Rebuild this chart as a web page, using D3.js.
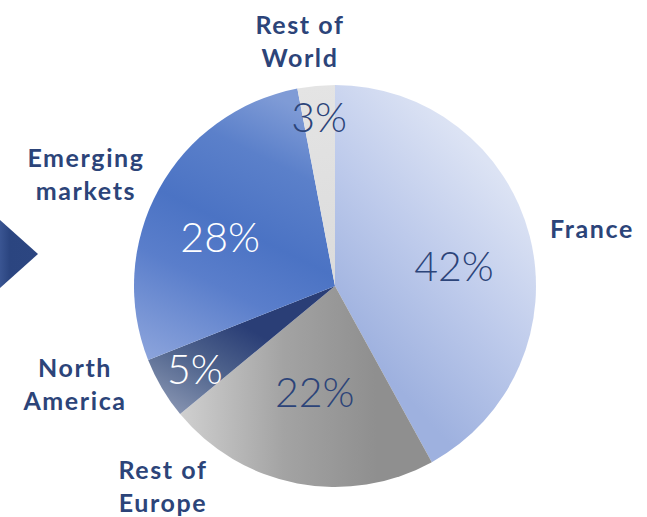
<!DOCTYPE html>
<html>
<head>
<meta charset="utf-8">
<script src="https://cdn.jsdelivr.net/npm/d3@7/dist/d3.min.js"></script>
<style>
  html, body { margin: 0; padding: 0; background: #ffffff; }
  svg { display: block; }
</style>
</head>
<body>
<svg id="chart" width="647" height="517"></svg>
<script>
// Revenue split by region
const regions = ["France", "Rest of Europe", "North America", "Emerging markets", "Rest of World"];
const shares = [42, 22, 5, 28, 3];
const valueLabels = ["42%", "22%", "5%", "28%", "3%"];
const nameLines = [["France"], ["Rest of", "Europe"], ["North", "America"], ["Emerging", "markets"], ["Rest of", "World"]];

const W = 647, H = 517;
const cx = 335, cy = 286, R = 201;
const svg = d3.select("#chart");
const defs = svg.append("defs");

const navy = "#2c4479";

// per-slice shading: gradient runs from (a1, r1) to (a2, r2), angles clockwise from 12 o'clock
const shading = [
  { a1: 60, r1: 1.0, a2: 165, r2: 0.25, stops: [[0, "#dce3f4"], [0.5, "#bdcaeb"], [1, "#9eb1df"]] },
  { a1: 160, r1: 0.6, a2: 235, r2: 1.0, stops: [[0, "#8f8f8f"], [0.45, "#a3a3a3"], [1, "#d4d4d4"]] },
  { a1: 238, r1: 0.45, a2: 222, r2: 1.0, stops: [[0, "#2a3e76"], [0.5, "#53678f"], [1, "#8e9ab6"]] },
  { a1: 245, r1: 1.0, a2: 345, r2: 0.95, stops: [[0, "#90a7dd"], [0.35, "#5a7ecb"], [0.55, "#4b73c4"], [0.8, "#5b80ca"], [1, "#7f9bd6"]] },
  { a1: 350, r1: 1.0, a2: 358, r2: 0.1, stops: [[0, "#e4e4e4"], [1, "#dcdcdc"]] }
];

// point relative to the pie centre
function polar(deg, frac) {
  const a = deg * Math.PI / 180;
  return [Math.sin(a) * R * frac, -Math.cos(a) * R * frac];
}

shading.forEach((s, i) => {
  const p1 = polar(s.a1, s.r1), p2 = polar(s.a2, s.r2);
  const g = defs.append("linearGradient")
    .attr("id", "grad" + i)
    .attr("gradientUnits", "userSpaceOnUse")
    .attr("x1", p1[0]).attr("y1", p1[1])
    .attr("x2", p2[0]).attr("y2", p2[1]);
  s.stops.forEach(st => g.append("stop").attr("offset", st[0]).attr("stop-color", st[1]));
});

// arrow marker on the left edge
const arrowGrad = defs.append("linearGradient").attr("id", "arrowGrad")
  .attr("x1", 0).attr("y1", 0).attr("x2", 1).attr("y2", 0);
arrowGrad.append("stop").attr("offset", 0).attr("stop-color", "#3a5592");
arrowGrad.append("stop").attr("offset", 0.25).attr("stop-color", "#2b4580");
arrowGrad.append("stop").attr("offset", 1).attr("stop-color", "#2c4681");
svg.append("path")
  .attr("d", d3.line()([[0, 220], [38, 254], [0, 288]]) + "Z")
  .attr("fill", "url(#arrowGrad)");

const pie = d3.pie().sort(null).value(d => d)(shares);
const arc = d3.arc().innerRadius(0).outerRadius(R);

const g = svg.append("g").attr("transform", `translate(${cx},${cy})`);
g.selectAll("path.slice")
  .data(pie)
  .join("path")
  .attr("class", "slice")
  .attr("d", arc)
  .attr("fill", (d, i) => `url(#grad${i})`);

// value labels inside slices: radius fraction and angular nudge from the slice middle
const valuePos = [
  { r: 0.60, da: 5, c: navy },
  { r: 0.54, da: 0, c: navy },
  { r: 0.81, da: 0, c: "#ffffff" },
  { r: 0.62, da: -6, c: "#ffffff" },
  { r: 0.845, da: 0, c: navy }
];
g.selectAll("text.val")
  .data(pie)
  .join("text")
  .attr("class", "val")
  .attr("transform", (d, i) => {
    const mid = (d.startAngle + d.endAngle) / 2 * 180 / Math.PI + valuePos[i].da;
    const c = polar(mid, valuePos[i].r);
    return `translate(${c[0]},${c[1]})`;
  })
  .attr("text-anchor", "middle")
  .attr("dy", "0.36em")
  .attr("font-family", "Lato, 'Open Sans', sans-serif")
  .attr("font-weight", 300)
  .attr("font-size", 41)
  .attr("fill", (d, i) => valuePos[i].c)
  .text((d, i) => valueLabels[i]);

// region names outside the pie
const namePos = [
  { x: 592, y: 229 },
  { x: 163, y: 470 },
  { x: 75, y: 368 },
  { x: 86, y: 158 },
  { x: 300, y: 25 }
];
const lineGap = 33;
nameLines.forEach((lines, i) => {
  const t = svg.append("text")
    .attr("text-anchor", "middle")
    .attr("font-family", "Lato, 'Open Sans', sans-serif")
    .attr("font-weight", 700)
    .attr("font-size", 25)
    .attr("letter-spacing", 1.6)
    .attr("fill", navy);
  lines.forEach((ln, j) => {
    t.append("tspan")
      .attr("x", namePos[i].x)
      .attr("y", namePos[i].y + j * lineGap)
      .attr("dy", "0.36em")
      .text(ln);
  });
});
</script>
</body>
</html>
